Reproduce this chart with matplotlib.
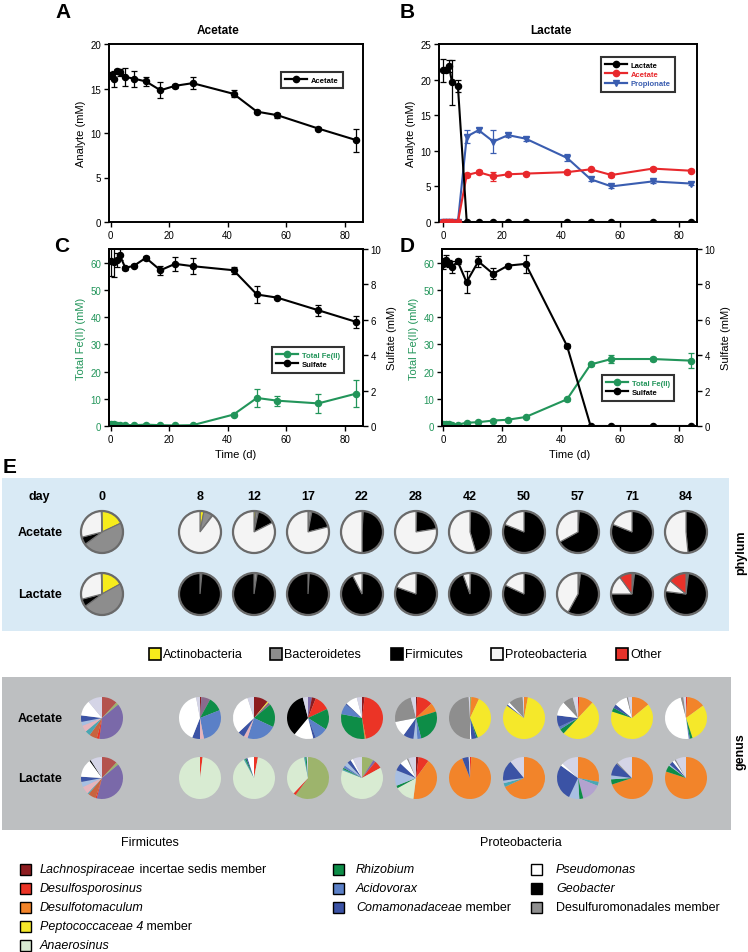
import numpy as np
import matplotlib
matplotlib.use('Agg')
import matplotlib.pyplot as plt
from matplotlib.patches import Rectangle, Circle
from matplotlib.lines import Line2D

plt.rcParams['font.family'] = ['Liberation Sans', 'DejaVu Sans']

W, H = 748, 953

# ---------------- line plot data ----------------
days = [0, 1, 2, 3, 5, 8, 12, 17, 22, 28, 42, 50, 57, 71, 84]

acetate_a = [16.5, 16.1, 17.0, 16.8, 16.3, 16.1, 15.8, 14.8, 15.3, 15.6, 14.4, 12.4, 12.0, 10.5, 9.2]
acetate_a_err = [0.4, 0.9, 0.2, 0.4, 1.0, 0.9, 0.5, 0.9, 0.2, 0.7, 0.4, 0.2, 0.3, 0.2, 1.3]

lactate_b = [21.3, 21.4, 21.9, 19.6, 19.1, 0, 0, 0, 0, 0, 0, 0, 0, 0, 0]
lactate_b_err = [1.6, 0.3, 0.9, 3.2, 0.9, 0, 0, 0, 0, 0, 0, 0, 0, 0, 0]
acetate_b = [0, 0, 0, 0, 0, 6.6, 7.0, 6.4, 6.7, 6.8, 7.0, 7.4, 6.6, 7.5, 7.2]
acetate_b_err = [0, 0, 0, 0, 0, 0.3, 0.3, 0.6, 0.2, 0.2, 0.2, 0.2, 0.3, 0.2, 0.2]
propionate_b = [0, 0, 0, 0, 0, 12.0, 12.9, 11.3, 12.2, 11.7, 9.0, 6.0, 5.0, 5.7, 5.4]
propionate_b_err = [0, 0, 0, 0, 0, 0.9, 0.3, 1.6, 0.3, 0.3, 0.5, 0.3, 0.2, 0.2, 0.2]

fe_c = [0.8, 0.6, 0.5, 0.4, 0.4, 0.3, 0.5, 0.3, 0.2, 0.3, 4.2, 10.3, 9.3, 8.3, 11.9]
fe_c_err = [0.3, 0.2, 0.2, 0.2, 0.2, 0.2, 0.3, 0.2, 0.2, 0.2, 0.5, 3.3, 1.8, 3.5, 5.0]
sulfate_c = [9.3, 9.27, 9.4, 9.68, 8.93, 9.06, 9.5, 8.8, 9.16, 9.03, 8.8, 7.43, 7.25, 6.54, 5.88]
sulfate_c_err = [0.8, 0.85, 0.4, 0.3, 0.1, 0.1, 0.1, 0.25, 0.4, 0.45, 0.2, 0.5, 0.1, 0.3, 0.35]

fe_d = [0.85, 0.8, 0.8, 0.5, 0.5, 1.2, 1.4, 2.0, 2.3, 3.3, 9.8, 22.6, 24.6, 24.6, 24.0]
fe_d_err = [0.2, 0.2, 0.2, 0.2, 0.2, 0.2, 0.2, 0.2, 0.2, 0.3, 0.6, 0.5, 1.5, 0.7, 2.8]
sulfate_d = [9.18, 9.36, 9.2, 8.97, 9.3, 8.13, 9.3, 8.6, 9.06, 9.16, 4.53, 0, 0, 0, 0]
sulfate_d_err = [0.3, 0.3, 0.2, 0.35, 0.15, 0.6, 0.3, 0.3, 0.1, 0.5, 0.1, 0, 0, 0, 0]

# ---------------- pie data ----------------
pie_days = ['0', '8', '12', '17', '22', '28', '42', '50', '57', '71', '84']

phyla = ['Actinobacteria', 'Bacteroidetes', 'Firmicutes', 'Proteobacteria', 'Other']
phylum_colors = ['#f6ec1c', '#8d8d8d', '#000000', '#f4f4f4', '#e8322a']
phylum_acetate = [
    [18, 47, 6, 28.5, 0.5], [3, 7, 0.5, 89.5, 0], [1.5, 2, 14, 82.5, 0],
    [0, 3, 18, 79, 0], [0, 1, 49, 50, 0], [0, 0.5, 22, 77.5, 0],
    [0, 0.5, 45, 54.5, 0], [0, 0, 81, 19, 0], [0, 1, 66, 33, 0],
    [0, 0, 81, 19, 0], [0, 0, 48.5, 51.5, 0]]
phylum_lactate = [
    [17, 48, 6, 28.5, 0.5], [0, 1.5, 98.5, 0, 0], [0, 2.5, 97.5, 0, 0],
    [0, 1, 99, 0, 0], [0, 0.5, 92, 7.5, 0], [0, 0.5, 80, 19.5, 0],
    [0, 0.5, 94, 5.5, 0], [0, 0, 82, 18, 0], [0, 2, 56, 42, 0],
    [1, 1, 73, 15, 10], [1, 1, 75, 9, 14]]

genus_order = ['brownred', 'olive', 'purple', 'lachno', 'dsp', 'brownorange', 'dtm', 'pep',
               'ana', 'teal', 'lilac', 'mauve', 'rhiz', 'acid', 'pink', 'lightblue', 'comam',
               'pseudo', 'geob', 'desulfuro', 'lavender']
genus_colors = {'brownred': '#b4524e', 'olive': '#9db46c', 'purple': '#7a69a9', 'lachno': '#8d1c20',
                'dsp': '#eb3426', 'brownorange': '#c8643f', 'dtm': '#f2842a', 'pep': '#f5e82a',
                'ana': '#d8ebd2', 'teal': '#4aa7b3', 'lilac': '#b3a2cf', 'mauve': '#8a6b8d',
                'rhiz': '#0d8d47', 'acid': '#5b80c7', 'pink': '#e6b4bc', 'lightblue': '#a8bfe2',
                'comam': '#3b53a5', 'pseudo': '#ffffff', 'geob': '#000000', 'desulfuro': '#8e8e8e',
                'lavender': '#d4d4e6'}
genus_acetate = [
    {'brownred': 12, 'olive': 2, 'purple': 38, 'dsp': 2, 'brownorange': 6, 'teal': 4, 'pink': 5,
     'lightblue': 3, 'comam': 5, 'pseudo': 12, 'lavender': 11},
    {'lachno': 1, 'mauve': 7, 'rhiz': 11, 'acid': 28, 'pink': 3, 'comam': 6, 'pseudo': 41, 'lavender': 3},
    {'lachno': 11, 'pep': 1, 'mauve': 2, 'rhiz': 18, 'acid': 23, 'pink': 3, 'comam': 5, 'pseudo': 32, 'lavender': 5},
    {'purple': 3, 'lachno': 3, 'dsp': 12, 'rhiz': 16, 'acid': 10, 'comam': 2, 'pseudo': 15, 'geob': 35, 'lavender': 4},
    {'lachno': 2, 'dsp': 45, 'dtm': 1, 'rhiz': 30, 'acid': 8, 'comam': 1, 'pseudo': 9, 'lavender': 4},
    {'lachno': 1, 'dsp': 12, 'dtm': 7, 'rhiz': 26, 'acid': 3, 'lightblue': 3, 'comam': 8, 'pseudo': 12,
     'desulfuro': 24, 'lavender': 4},
    {'olive': 1, 'dtm': 6, 'pep': 37, 'rhiz': 1, 'comam': 4, 'pseudo': 1, 'desulfuro': 49, 'lavender': 1},
    {'dtm': 3, 'pep': 82, 'comam': 1, 'pseudo': 2, 'desulfuro': 11, 'lavender': 1},
    {'dsp': 1, 'dtm': 11, 'pep': 50, 'rhiz': 4, 'acid': 2, 'comam': 9, 'pseudo': 11, 'desulfuro': 8, 'lavender': 4},
    {'dtm': 14, 'pep': 66, 'rhiz': 3, 'comam': 3, 'pseudo': 10, 'desulfuro': 1, 'lavender': 3},
    {'dsp': 1, 'dtm': 14, 'pep': 30, 'rhiz': 2, 'acid': 1, 'pseudo': 48, 'desulfuro': 2, 'lavender': 2}]
genus_lactate = [
    {'brownred': 12, 'olive': 2, 'purple': 40, 'dsp': 1, 'brownorange': 6, 'teal': 1, 'pink': 6,
     'lightblue': 4, 'comam': 4, 'pseudo': 14, 'geob': 1, 'lavender': 9},
    {'dsp': 2, 'ana': 98},
    {'dsp': 3, 'ana': 89, 'teal': 1, 'rhiz': 1, 'comam': 1, 'pseudo': 5},
    {'olive': 60, 'dsp': 2, 'ana': 35, 'teal': 1, 'rhiz': 1, 'lavender': 1},
    {'olive': 9, 'purple': 2, 'dsp': 6, 'ana': 64, 'teal': 1, 'rhiz': 1, 'acid': 2, 'lightblue': 3,
     'comam': 3, 'pseudo': 2, 'lavender': 7},
    {'lachno': 2, 'dsp': 8, 'dtm': 42, 'ana': 15, 'rhiz': 2, 'lightblue': 12, 'comam': 6, 'pseudo': 6,
     'desulfuro': 1, 'lavender': 6},
    {'dsp': 1, 'dtm': 93, 'comam': 5, 'lavender': 1},
    {'dtm': 68, 'teal': 3, 'lightblue': 2, 'comam': 16, 'lavender': 11},
    {'dtm': 28, 'teal': 3, 'lilac': 15, 'rhiz': 3, 'lightblue': 8, 'comam': 28, 'pseudo': 2, 'lavender': 13},
    {'dtm': 70, 'rhiz': 4, 'lightblue': 3, 'comam': 10, 'desulfuro': 1, 'lavender': 12},
    {'dtm': 80, 'rhiz': 5, 'lightblue': 1, 'comam': 3, 'pseudo': 2, 'desulfuro': 1, 'lavender': 8}]

firm_legend = [('lachno', [('Lachnospiraceae', 'italic'), (' incertae sedis member', 'normal')]),
               ('dsp', [('Desulfosporosinus', 'italic')]),
               ('dtm', [('Desulfotomaculum', 'italic')]),
               ('pep', [('Peptococcaceae 4', 'italic'), (' member', 'normal')]),
               ('ana', [('Anaerosinus', 'italic')])]
prot_legend1 = [('rhiz', [('Rhizobium', 'italic')]),
                ('acid', [('Acidovorax', 'italic')]),
                ('comam', [('Comamonadaceae', 'italic'), (' member', 'normal')])]
prot_legend2 = [('pseudo', [('Pseudomonas', 'italic')]),
                ('geob', [('Geobacter', 'italic')]),
                ('desulfuro', [('Desulfuromonadales member', 'normal')])]

GREEN = '#22955a'
RED = '#e8282c'
BLUE = '#3a5db0'

fig = plt.figure(figsize=(W / 100, H / 100), dpi=100)

# full-figure overlay in pixel units for panel E
bg = fig.add_axes([0, 0, 1, 1])
bg.set_xlim(0, W)
bg.set_ylim(0, H)
bg.axis('off')


def Y(y):
    return H - y


def px_axes(l, t, r, b):
    return fig.add_axes([l / W, (H - b) / H, (r - l) / W, (b - t) / H])


def style_ax(a):
    for s in a.spines.values():
        s.set_linewidth(1.4)
    a.tick_params(direction='out', length=3.5, width=1, labelsize=7, pad=2)


def handle(color, marker='o'):
    return Line2D([], [], color=color, marker=marker, markersize=4.5, linewidth=1.6)


ekw = dict(capsize=2.3, elinewidth=0.9, capthick=0.9, markersize=4.4, linewidth=1.5)
lkw = dict(loc='upper left', fancybox=False, edgecolor='black', prop={'weight': 'bold', 'size': 5.5},
           handlelength=2.8, borderpad=0.6, labelspacing=0.25, handletextpad=0.5)

# ---- A ----
axA = px_axes(109, 45, 363, 223)
axA.errorbar(days, acetate_a, yerr=acetate_a_err, color='black', marker='o', **ekw)
axA.set_xlim(-0.6, 86.3)
axA.set_ylim(0, 20)
axA.set_yticks([0, 5, 10, 15, 20])
axA.set_xticks([0, 20, 40, 60, 80])
axA.set_ylabel('Analyte (mM)', fontsize=8, labelpad=3)
style_ax(axA)
leg = axA.legend([handle('black')], ['Acetate'], bbox_to_anchor=(0.661, 0.865), **lkw)
leg.get_frame().set_linewidth(1.5)

# ---- B ----
axB = px_axes(439, 45, 697, 223)
axB.errorbar(days, lactate_b, yerr=lactate_b_err, color='black', marker='o', zorder=4, **ekw)
axB.errorbar(days, acetate_b, yerr=acetate_b_err, color=RED, marker='o', zorder=3, **ekw)
axB.errorbar(days, propionate_b, yerr=propionate_b_err, color=BLUE, marker='v', zorder=2, **ekw)
axB.set_xlim(-1.4, 86)
axB.set_ylim(0, 25)
axB.set_yticks([0, 5, 10, 15, 20, 25])
axB.set_xticks([0, 20, 40, 60, 80])
axB.set_ylabel('Analyte (mM)', fontsize=8, labelpad=3)
style_ax(axB)
leg = axB.legend([handle('black'), handle(RED), handle(BLUE, 'v')], ['Lactate', 'Acetate', 'Propionate'],
                 bbox_to_anchor=(0.612, 0.949), labelcolor=['black', RED, BLUE], **lkw)
leg.get_frame().set_linewidth(1.5)

fig.text(218 / W, Y(31) / H, 'Acetate', fontsize=8.5, fontweight='bold', ha='center', va='center')
fig.text(551 / W, Y(31) / H, 'Lactate', fontsize=8.5, fontweight='bold', ha='center', va='center')


# ---- C and D ----
def fe_panel(l, r, fe, fe_err, so4, so4_err, xl, leg_anchor):
    ax = px_axes(l, 250, r, 427)
    ax2 = ax.twinx()
    ax.errorbar(days, fe, yerr=fe_err, color=GREEN, marker='o', **ekw)
    ax2.errorbar(days, so4, yerr=so4_err, color='black', marker='o', **ekw)
    ax.set_xlim(*xl)
    ax.set_ylim(0, 65)
    ax.set_yticks([0, 10, 20, 30, 40, 50, 60])
    ax.set_xticks([0, 20, 40, 60, 80])
    ax2.set_ylim(0, 10)
    ax2.set_yticks([0, 2, 4, 6, 8, 10])
    style_ax(ax)
    style_ax(ax2)
    ax.tick_params(axis='y', labelcolor=GREEN)
    ax.set_ylabel('Total Fe(II) (mM)', fontsize=8, color=GREEN, labelpad=3)
    ax2.set_ylabel('Sulfate (mM)', fontsize=8, labelpad=4)
    ax.set_xlabel('Time (d)', fontsize=8, labelpad=4)
    lg = ax2.legend([handle(GREEN), handle('black')], ['Total Fe(II)', 'Sulfate'],
                    bbox_to_anchor=leg_anchor, labelcolor=[GREEN, 'black'], **lkw)
    lg.get_frame().set_linewidth(1.5)
    return ax


fe_panel(109, 363, fe_c, fe_c_err, sulfate_c, sulfate_c_err, (-0.6, 86.3), (0.626, 0.469))
fe_panel(442, 697, fe_d, fe_d_err, sulfate_d, sulfate_d_err, (-0.3, 86), (0.612, 0.311))

for lab, x, y in [('A', 63, 13), ('B', 407, 13), ('C', 62, 247), ('D', 407, 247), ('E', 10, 468)]:
    bg.text(x, Y(y), lab, fontsize=15, fontweight='bold', ha='center', va='center')

# ---------------- panel E ----------------
bg.add_patch(Rectangle((2, Y(632)), 727, 153, facecolor='#d9eaf5', edgecolor='none', zorder=0))
bg.add_patch(Rectangle((2, Y(831)), 729, 153, facecolor='#bdbfc1', edgecolor='none', zorder=0))

pie_x = [102] + [200 + 54 * i for i in range(10)]
R = 21

bg.text(39, Y(497), 'day', fontsize=9, fontweight='bold', ha='center', va='center')
for d, x in zip(pie_days, pie_x):
    bg.text(x, Y(497), d, fontsize=9, fontweight='bold', ha='center', va='center')

for name, yp, yg in [('Acetate', 533, 719), ('Lactate', 595, 779)]:
    bg.text(40, Y(yp), name, fontsize=9, fontweight='bold', ha='center', va='center')
    bg.text(40, Y(yg), name, fontsize=9, fontweight='bold', ha='center', va='center')
bg.text(741, Y(553), 'phylum', fontsize=9, fontweight='bold', rotation=90, ha='center', va='center')
bg.text(741, Y(752), 'genus', fontsize=9, fontweight='bold', rotation=90, ha='center', va='center')

for row, yc in [(phylum_acetate, 533), (phylum_lactate, 595)]:
    for vals, x in zip(row, pie_x):
        v = [a for a in vals if a > 0]
        c = [cc for a, cc in zip(vals, phylum_colors) if a > 0]
        bg.pie(v, colors=c, startangle=90, counterclock=False, center=(x, Y(yc)), radius=R,
               frame=True, wedgeprops=dict(edgecolor='#707070', linewidth=0.8))
        bg.add_patch(Circle((x, Y(yc)), R, facecolor='none', edgecolor='#6a6a6a', linewidth=1.6, zorder=5))

for row, yc in [(genus_acetate, 719), (genus_lactate, 779)]:
    for d, x in zip(row, pie_x):
        v = [d[k] for k in genus_order if d.get(k, 0) > 0]
        c = [genus_colors[k] for k in genus_order if d.get(k, 0) > 0]
        bg.pie(v, colors=c, startangle=90, counterclock=False, center=(x, Y(yc)), radius=R,
               frame=True, wedgeprops=dict(linewidth=0))

bg.set_xlim(0, W)
bg.set_ylim(0, H)
bg.set_aspect('auto')
bg.axis('off')

# phylum legend
for name, col, xs in zip(phyla, phylum_colors, [155, 276, 397, 497, 622]):
    bg.add_patch(Rectangle((xs - 6, Y(655) - 6), 12, 12, facecolor=col, edgecolor='black', linewidth=1.2))
    bg.text(xs + 8, Y(655), name, fontsize=9, ha='left', va='center')

# genus legend
renderer = fig.canvas.get_renderer()


def rich(x, y, parts):
    for txt, st in parts:
        t = bg.text(x, Y(y), txt, fontsize=9, style=st, ha='left', va='center')
        x += t.get_window_extent(renderer=renderer).width


bg.text(150, Y(843), 'Firmicutes', fontsize=9, ha='center', va='center')
bg.text(521, Y(843), 'Proteobacteria', fontsize=9, ha='center', va='center')
row_y = [870, 889, 908, 927, 946]
for (key, parts), yy in zip(firm_legend, row_y):
    bg.add_patch(Rectangle((20, Y(yy) - 5.5), 11, 11, facecolor=genus_colors[key], edgecolor='black', linewidth=1))
    rich(40, yy, parts)
for (key, parts), yy in zip(prot_legend1, row_y):
    bg.add_patch(Rectangle((333, Y(yy) - 5.5), 11, 11, facecolor=genus_colors[key], edgecolor='black', linewidth=1))
    rich(356, yy, parts)
for (key, parts), yy in zip(prot_legend2, row_y):
    bg.add_patch(Rectangle((531, Y(yy) - 5.5), 11, 11, facecolor=genus_colors[key], edgecolor='black', linewidth=1))
    rich(556, yy, parts)

fig.savefig('out.png', dpi=100)
